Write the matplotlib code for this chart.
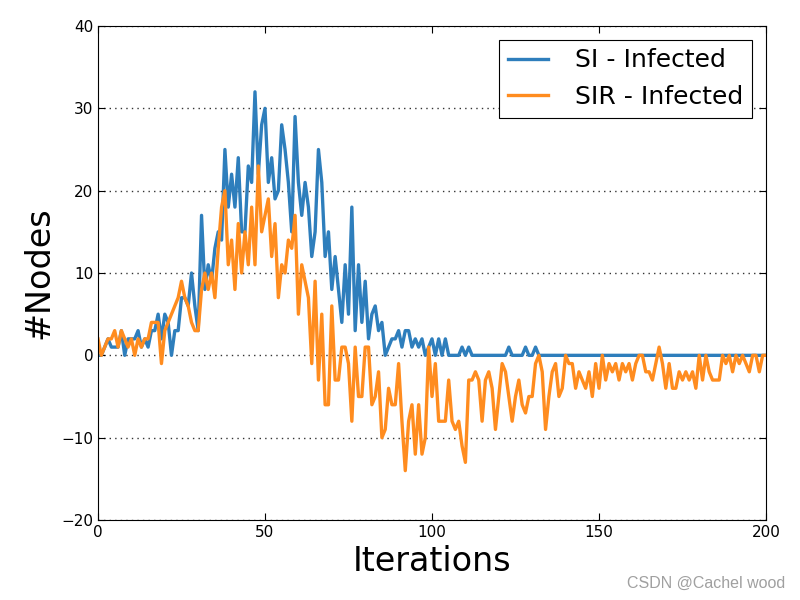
import numpy as np
import matplotlib
matplotlib.use('Agg')
import matplotlib.pyplot as plt

# SI / SIR infected counts per iteration
si_infected = [
    0, 0, 1, 2, 1, 1, 1, 3, 0, 2,
    2, 2, 3, 1, 2, 1, 3, 3, 5, 2,
    5, 4, 0, 3, 3, 7, 7, 6, 10, 6,
    3, 17, 8, 11, 9, 13, 15, 14, 25, 18,
    22, 18, 24, 15, 15, 23, 21, 32, 22, 28,
    30, 21, 24, 19, 20, 28, 25, 21, 15, 29,
    21, 17, 21, 18, 12, 15, 25, 21, 12, 15,
    8, 12, 8, 4, 11, 5, 18, 3, 11, 4,
    9, 2, 5, 6, 3, 4, 0, 1, 2, 2,
    3, 1, 3, 3, 1, 2, 1, 2, 0, 1,
    2, 0, 2, 0, 2, 0, 0, 0, 0, 1,
    0, 1, 0, 0, 0, 0, 0, 0, 0, 0,
    0, 0, 0, 1, 0, 0, 0, 0, 1, 0,
    0, 1, 0, 0, 0, 0, 0, 0, 0, 0,
    0, 0, 0, 0, 0, 0, 0, 0, 0, 0,
    0, 0, 0, 0, 0, 0, 0, 0, 0, 0,
    0, 0, 0, 0, 0, 0, 0, 0, 0, 0,
    0, 0, 0, 0, 0, 0, 0, 0, 0, 0,
    0, 0, 0, 0, 0, 0, 0, 0, 0, 0,
    0, 0, 0, 0, 0, 0, 0, 0, 0, 0,
    0,
]
sir_infected = [
    2, 0, 1, 2, 2, 3, 1, 3, 2, 1,
    2, 0, 2, 1, 2, 2, 4, 4, 4, -1,
    3, 4, 5, 6, 7, 9, 7, 6, 4, 3,
    3, 8, 10, 8, 10, 7, 13, 18, 20, 11,
    14, 8, 16, 10, 15, 11, 18, 11, 23, 15,
    17, 19, 12, 16, 7, 11, 10, 14, 13, 17,
    5, 11, 9, 7, -1, 9, -3, 5, -6, -6,
    6, -3, -3, 1, 1, -1, -8, 1, -5, -5,
    1, 1, -6, -5, -2, -10, -9, -4, -6, -6,
    -1, -8, -14, -8, -6, -12, -6, -12, -10, 1,
    -5, -1, -8, -8, -8, -3, -8, -9, -8, -11,
    -13, -3, -3, -2, -3, -8, -3, -2, -4, -9,
    -5, -1, -2, -5, -8, -5, -3, -6, -7, -5,
    -5, -1, 0, -2, -9, -5, -2, -1, -5, -4,
    0, -1, -1, -4, -2, -3, -4, -2, -5, -1,
    -4, 0, -3, -1, -2, -1, -3, -1, -2, -1,
    -3, -1, 0, 0, -2, -2, -3, -1, 1, -1,
    -4, -1, -4, -4, -2, -3, -2, -3, -2, -4,
    0, -3, 0, -2, -3, -3, -3, 0, -1, 0,
    -2, 0, -1, 0, -1, -2, 0, 0, -2, 0,
    0,
]
labels = ['SI - Infected', 'SIR - Infected']

iterations = np.arange(len(si_infected))

fig = plt.figure(figsize=(8, 6), dpi=100)
ax = fig.add_axes([0.1225, 0.1333, 0.835, 0.8234])

ax.plot(iterations, si_infected, color='#2e7ebc', lw=2.4, label=labels[0])
ax.plot(iterations, sir_infected, color='#ff8c1f', lw=2.4, label=labels[1])

ax.set_xlim(0, 200)
ax.set_ylim(-20, 40)
ax.set_xticks(np.arange(0, 201, 50))
ax.set_yticks(np.arange(-20, 41, 10))
ax.tick_params(direction='in', top=True, right=True, labelsize=11, length=5)
ax.yaxis.grid(True, linestyle=(0, (1, 3)), color='#333333', lw=1.0)

ax.set_xlabel('Iterations', fontsize=24)
ax.set_ylabel('#Nodes', fontsize=24)

leg = ax.legend(loc='upper right', fontsize=18, fancybox=False, framealpha=1,
                edgecolor='black', handlelength=1.6, handletextpad=1.1,
                borderaxespad=0.55, borderpad=0.35, labelspacing=0.5)
leg.get_frame().set_linewidth(0.8)

fig.text(0.982, 0.015, 'CSDN @Cachel wood', ha='right', va='bottom',
         fontsize=11.5, color='#a0a0a0', family='Liberation Sans')

fig.savefig('out.png', dpi=100)
